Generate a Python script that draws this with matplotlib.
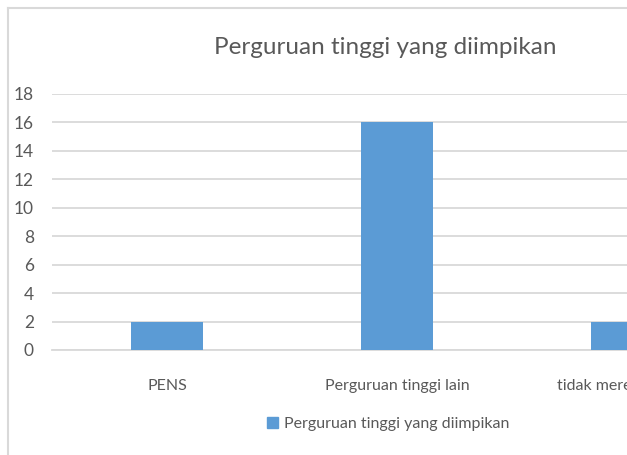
import matplotlib
matplotlib.use("Agg")
import matplotlib.pyplot as plt
from matplotlib.lines import Line2D
from matplotlib.patches import Patch

categories = ["PENS", "Perguruan tinggi lain", "tidak merencanakan"]
values = [2, 16, 2]
series_name = "Perguruan tinggi yang diimpikan"
title = "Perguruan tinggi yang diimpikan"
yticks = [0, 2, 4, 6, 8, 10, 12, 14, 16, 18]

plt.rcParams['font.family'] = ['Lato', 'DejaVu Sans']

W, H = 627, 455
fig = plt.figure(figsize=(W / 100, H / 100), dpi=100)
fig.patch.set_facecolor("white")

# axes extends past the right edge (chart is cropped)
left, right = 52, 742
bottom, top = 350, 94
ax = fig.add_axes([left / W, (H - bottom) / H, (right - left) / W, (bottom - top) / H])

x = list(range(len(categories)))
ax.bar(x, values, width=0.313, color="#5b9bd5", zorder=3, label=series_name)
ax.set_xlim(-0.5, len(categories) - 0.5)
ax.set_ylim(0, 18)
ax.set_yticks(yticks)
ax.set_xticks(x)
ax.set_xticklabels(categories)
ax.grid(axis="y", color="#d9d9d9", linewidth=1.3, zorder=0)
for s in ["top", "right", "left"]:
    ax.spines[s].set_visible(False)
ax.spines["bottom"].set_color("#d9d9d9")
ax.spines["bottom"].set_linewidth(1.3)
ax.tick_params(axis="both", length=0, colors="#595959")
ax.tick_params(axis="y", pad=13, labelsize=12.5)
ax.tick_params(axis="x", pad=21, labelsize=11.5)

fig.text(385 / W, 1 - 48 / H, title, ha="center", va="center", fontsize=17.5, color="#595959")

# legend
fig.legend(handles=[Patch(color="#5b9bd5", label=series_name)], loc="center",
           bbox_to_anchor=(388 / W, 1 - 424 / H), frameon=False, fontsize=11.5,
           handlelength=0.7, handleheight=0.7, handletextpad=0.4, labelcolor="#595959")

# chart border (cropped: only left and top visible)
fig.add_artist(Line2D([7.5 / W, 7.5 / W], [0, 1 - 7.5 / H], color="#d9d9d9", linewidth=1.5))
fig.add_artist(Line2D([7.5 / W, 1], [1 - 7.5 / H, 1 - 7.5 / H], color="#d9d9d9", linewidth=1.5))

fig.savefig("out.png", dpi=100)
